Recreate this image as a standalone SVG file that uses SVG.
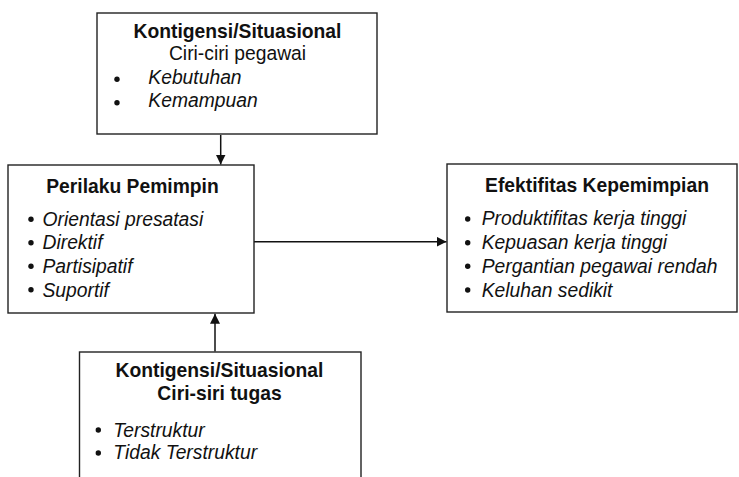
<svg xmlns="http://www.w3.org/2000/svg" width="739" height="477" viewBox="0 0 739 477">
<style>
.box{fill:#fff;stroke:#222;stroke-width:1.4}
.t{font-family:"Liberation Sans",Arial,sans-serif;font-size:19.3px;fill:#111}
.b{font-weight:bold}
.i{font-style:italic}
.c{text-anchor:middle}
.bul{fill:#111}
.con{stroke:#111;stroke-width:1.5;fill:none}
</style>
<defs>
<marker id="ah" viewBox="0 0 10 10" refX="10" refY="5" markerWidth="10" markerHeight="10" markerUnits="userSpaceOnUse" orient="auto">
<path d="M0,0 L10,5 L0,10 z" fill="#111"/>
</marker>
</defs>
<rect width="739" height="477" fill="#fff"/>
<g id="connectors">
<line class="con" x1="220.7" y1="135" x2="220.7" y2="164.5" marker-end="url(#ah)"/>
<line class="con" x1="254" y1="241.7" x2="446.5" y2="241.7" marker-end="url(#ah)"/>
<line class="con" x1="215" y1="351.5" x2="215" y2="313.8" marker-end="url(#ah)"/>
</g>
<g id="node-kontigensi-pegawai">
<rect class="box" x="97" y="13" width="280" height="121"/>
<text class="t b c" x="237.5" y="37.7">Kontigensi/Situasional</text>
<text class="t c" x="237.5" y="60">Ciri-ciri pegawai</text>
<circle class="bul" cx="117" cy="79.3" r="2.7"/>
<text class="t i" x="148.3" y="84">Kebutuhan</text>
<circle class="bul" cx="117" cy="102.7" r="2.7"/>
<text class="t i" x="148.3" y="107">Kemampuan</text>
</g>
<g id="node-perilaku">
<rect class="box" x="8" y="165" width="246" height="148"/>
<text class="t b c" x="132.5" y="193.3">Perilaku Pemimpin</text>
<circle class="bul" cx="31" cy="219.3" r="2.7"/>
<text class="t i" x="42.5" y="225.5">Orientasi presatasi</text>
<circle class="bul" cx="31" cy="242.7" r="2.7"/>
<text class="t i" x="42.5" y="249">Direktif</text>
<circle class="bul" cx="31" cy="266.3" r="2.7"/>
<text class="t i" x="42.5" y="273">Partisipatif</text>
<circle class="bul" cx="31" cy="289.7" r="2.7"/>
<text class="t i" x="42.5" y="297">Suportif</text>
</g>
<g id="node-efektifitas">
<rect class="box" x="447" y="164" width="290" height="148"/>
<text class="t b c" x="597" y="192.3">Efektifitas Kepemimpian</text>
<circle class="bul" cx="467.7" cy="219" r="2.7"/>
<text class="t i" x="481.7" y="225">Produktifitas kerja tinggi</text>
<circle class="bul" cx="467.7" cy="242.7" r="2.7"/>
<text class="t i" x="481.7" y="249">Kepuasan kerja tinggi</text>
<circle class="bul" cx="467.7" cy="266.3" r="2.7"/>
<text class="t i" x="481.7" y="273">Pergantian pegawai rendah</text>
<circle class="bul" cx="467.7" cy="290" r="2.7"/>
<text class="t i" x="481.7" y="297">Keluhan sedikit</text>
</g>
<g id="node-kontigensi-tugas">
<rect class="box" x="79.5" y="352" width="281.5" height="160"/>
<text class="t b c" x="219.5" y="376.7">Kontigensi/Situasional</text>
<text class="t b c" x="219.5" y="400">Ciri-siri tugas</text>
<circle class="bul" cx="98.3" cy="430" r="2.7"/>
<text class="t i" x="113.3" y="436.7">Terstruktur</text>
<circle class="bul" cx="98.3" cy="453" r="2.7"/>
<text class="t i" x="113.3" y="459.3">Tidak Terstruktur</text>
</g>
</svg>
